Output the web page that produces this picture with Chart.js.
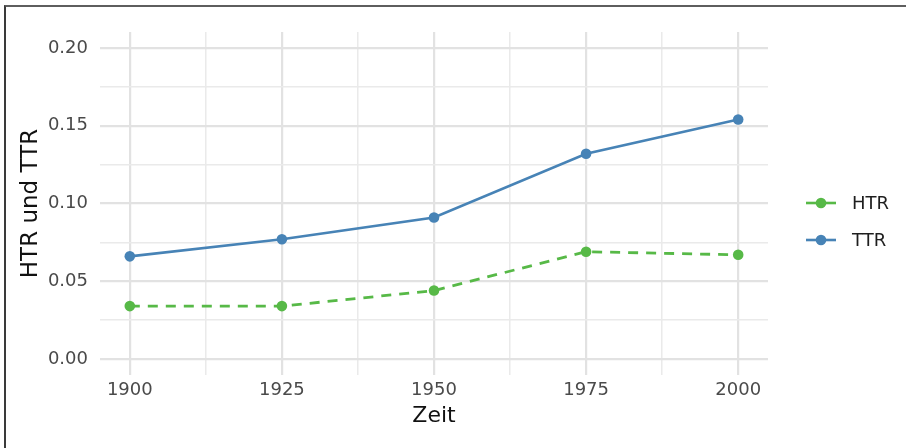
<!DOCTYPE html>
<html>
<head>
<meta charset="utf-8">
<script src="https://cdn.jsdelivr.net/npm/chart.js@4/dist/chart.umd.min.js"></script>
<style>
  html, body { margin: 0; padding: 0; background: #fff; }
  #wrap { position: relative; width: 906px; height: 448px; overflow: hidden; }
  #frame { position: absolute; left: 4px; top: 5px; right: -10px; bottom: -10px;
           border-top: 2px solid #5e5e5e; border-left: 2px solid #3a3a3a; pointer-events: none; }
  canvas { position: absolute; left: 0; top: 0; }
</style>
</head>
<body>
<div id="wrap">
  <canvas id="c" width="906" height="448"></canvas>
  <div id="frame"></div>
</div>
<script>
// ---- data ----
const years = [1900, 1925, 1950, 1975, 2000];
const htr = [0.034, 0.034, 0.044, 0.069, 0.067];
const ttr = [0.066, 0.077, 0.091, 0.132, 0.154];
const seriesNames = ['HTR', 'TTR'];
const xMajorTicks = [1900, 1925, 1950, 1975, 2000];
const xMinorTicks = [1912.5, 1937.5, 1962.5, 1987.5];
const yMajorTicks = [0.00, 0.05, 0.10, 0.15, 0.20];
const yMinorTicks = [0.025, 0.075, 0.125, 0.175];
const xTitle = 'Zeit';
const yTitle = 'HTR und TTR';

const colHTR = '#57b947';
const colTTR = '#4783b6';
const FONT = "'DejaVu Sans', sans-serif";

function pts(xs, ys) { return xs.map((x, i) => ({ x: x, y: ys[i] })); }
function isMajor(list, v) { return list.some(m => Math.abs(m - v) < 1e-9); }

const legendPlugin = {
  id: 'ggLegend',
  afterDraw(chart) {
    const ctx = chart.ctx;
    const ca = chart.chartArea;
    const x0 = ca.right + 38;
    const ys = [203, 240];
    chart.data.datasets.forEach((ds, i) => {
      const y = ys[i];
      ctx.save();
      ctx.strokeStyle = ds.borderColor;
      ctx.lineWidth = 2.6;
      ctx.beginPath();
      ctx.moveTo(x0, y);
      ctx.lineTo(x0 + 30, y);
      ctx.stroke();
      ctx.fillStyle = ds.borderColor;
      ctx.beginPath();
      ctx.arc(x0 + 15, y, 5.3, 0, Math.PI * 2);
      ctx.fill();
      ctx.fillStyle = '#1e1e1e';
      ctx.font = '18px ' + FONT;
      ctx.textBaseline = 'middle';
      ctx.textAlign = 'left';
      ctx.fillText(ds.label, x0 + 46, y + 1);
      ctx.restore();
    });
  }
};

new Chart(document.getElementById('c'), {
  type: 'scatter',
  data: {
    datasets: [
      { label: seriesNames[0], data: pts(years, htr), showLine: true,
        borderColor: colHTR, backgroundColor: colHTR, borderWidth: 2.8,
        borderDash: [10, 8], pointRadius: 5.3, pointBorderWidth: 0, pointHoverRadius: 5.3 },
      { label: seriesNames[1], data: pts(years, ttr), showLine: true,
        borderColor: colTTR, backgroundColor: colTTR, borderWidth: 2.6,
        pointRadius: 5.3, pointBorderWidth: 0, pointHoverRadius: 5.3 }
    ]
  },
  options: {
    responsive: false,
    animation: false,
    events: [],
    layout: { padding: { left: 6, right: 138, top: 32, bottom: 8 } },
    plugins: { legend: { display: false }, tooltip: { enabled: false } },
    scales: {
      x: {
        type: 'linear', min: 1895.1, max: 2004.9,
        afterBuildTicks(scale) {
          scale.ticks = xMajorTicks.concat(xMinorTicks).sort((a, b) => a - b).map(v => ({ value: v }));
        },
        afterFit(scale) { scale.height = 65; },
        border: { display: false },
        grid: {
          drawTicks: false,
          color: ctx => isMajor(xMajorTicks, ctx.tick.value) ? '#e2e2e2' : '#eaeaea',
          lineWidth: ctx => isMajor(xMajorTicks, ctx.tick.value) ? 2.2 : 1.5
        },
        ticks: {
          autoSkip: false, maxRotation: 0, padding: 5,
          color: '#4a4a4a', font: { family: FONT, size: 18 },
          callback: (v) => isMajor(xMajorTicks, v) ? String(v) : ''
        },
        title: { display: true, text: xTitle, color: '#111', font: { family: FONT, size: 22 },
                 padding: { top: 0, bottom: 11 } }
      },
      y: {
        type: 'linear', min: -0.0103, max: 0.2103,
        afterBuildTicks(scale) {
          scale.ticks = yMajorTicks.concat(yMinorTicks).sort((a, b) => a - b).map(v => ({ value: v }));
        },
        afterFit(scale) { scale.width = 94; },
        border: { display: false },
        grid: {
          drawTicks: false,
          color: ctx => isMajor(yMajorTicks, ctx.tick.value) ? '#e2e2e2' : '#eaeaea',
          lineWidth: ctx => isMajor(yMajorTicks, ctx.tick.value) ? 2.2 : 1.5
        },
        ticks: {
          autoSkip: false, padding: 12,
          color: '#4a4a4a', font: { family: FONT, size: 18 },
          callback: (v) => isMajor(yMajorTicks, v) ? v.toFixed(2) : ''
        },
        title: { display: true, text: yTitle, color: '#111', font: { family: FONT, size: 23 },
                 padding: { top: 11, bottom: 0 } }
      }
    }
  },
  plugins: [legendPlugin]
});
</script>
</body>
</html>
